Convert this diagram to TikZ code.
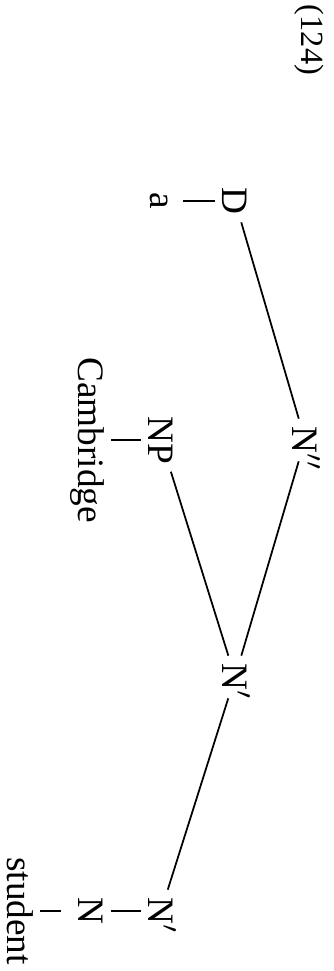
\documentclass[tikz,border=0pt]{standalone}
\usepackage{fontspec}
\setmainfont{Liberation Serif}
\usetikzlibrary{positioning}

\begin{document}
\begin{tikzpicture}[x=0.01cm, y=-0.01cm, line width=0.5pt,
    cat/.style={rotate=-90, inner sep=0.07cm, text height=0.25cm, text depth=0pt, font=\fontsize{10.6}{13}\selectfont},
    exnum/.style={rotate=-90, inner sep=0pt, font=\fontsize{9.2}{11}\selectfont}
]
    \useasboundingbox (0,0) rectangle (334,971);

    \node[exnum] (num) at (309,40) {(124)};

    % tree, turned on its side
    \node[cat] (root) at (305,440) {N\rlap{$''$}};
    \node[cat] (d) at (235,201) {D};
    \node[cat] (a) at (163,201) {a};
    \node[cat] (nbar) at (235,677) {N\rlap{$'$}};
    \node[cat] (np) at (161,440) {NP};
    \node[cat] (cam) at (91,440) {Cambridge};
    \node[cat] (nbarb) at (161,911) {N\rlap{$'$}};
    \node[cat] (n) at (91,911) {N};
    \node[cat] (stu) at (20,911) {student};

    \draw (root) -- (d);
    \draw (root) -- (nbar);
    \draw (nbar) -- (np);
    \draw (nbar) -- (nbarb);

    \draw (d) -- (a);
    \draw (np) -- (cam);
    \draw (nbarb) -- (n);
    \draw[shorten <=0.1cm] (n) -- (stu);
\end{tikzpicture}
\end{document}
